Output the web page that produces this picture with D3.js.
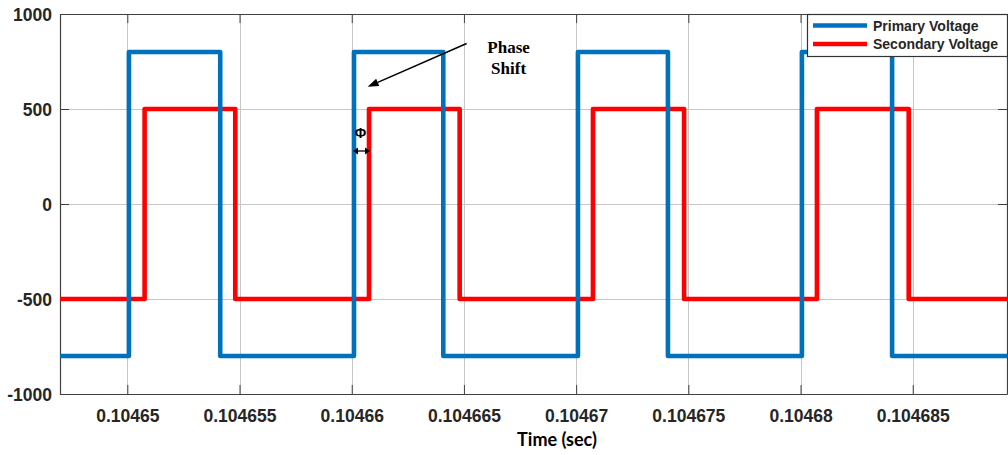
<!DOCTYPE html>
<html><head><meta charset="utf-8">
<script src="https://cdn.jsdelivr.net/npm/d3@7"></script>
<style>body{margin:0;background:#fff} svg{display:block}</style>
</head><body><svg id="chart" width="1008" height="455"></svg>
<script>
// Axis ticks
const xTicks = [0.10465, 0.104655, 0.10466, 0.104665, 0.10467, 0.104675, 0.10468, 0.104685];
const xTickLabels = ["0.10465", "0.104655", "0.10466", "0.104665", "0.10467", "0.104675", "0.10468", "0.104685"];
const yTicks = [-1000, -500, 0, 500, 1000];
const yTickLabels = ["-1000", "-500", "0", "500", "1000"];

// Switching instants (s) and the level held from each instant on (V)
const primaryTime = [0.104647, 0.10465007, 0.10465414, 0.10466010, 0.10466408, 0.10467008, 0.10467409, 0.10468006, 0.10468408, 0.1046892];
const primaryVoltage = [-800, 800, -800, 800, -800, 800, -800, 800, -800, -800];
const secondaryTime = [0.104647, 0.10465077, 0.10465481, 0.10466077, 0.10466481, 0.10467075, 0.10467481, 0.10468073, 0.10468482, 0.1046892];
const secondaryVoltage = [-500, 500, -500, 500, -500, 500, -500, 500, -500, -500];

const seriesNames = ["Primary Voltage", "Secondary Voltage"];
const seriesColors = ["#0072BD", "#FF0000"];

const W = 1008, H = 455;
const m = {left: 60, right: 1, top: 14, bottom: 61};
const svg = d3.select("#chart");
svg.append("rect").attr("width", W).attr("height", H).attr("fill", "#fff");

const x = d3.scaleLinear().domain([0.104647, 0.1046892]).range([m.left, W - m.right]);
const y = d3.scaleLinear().domain([-1000, 1000]).range([H - m.bottom, m.top]);
const x0 = m.left, x1 = W - m.right, y0 = H - m.bottom, y1 = m.top;

svg.append("defs").append("clipPath").attr("id", "plotclip")
  .append("rect").attr("x", x0).attr("y", y1).attr("width", x1 - x0).attr("height", y0 - y1);

// Grid
const grid = svg.append("g").attr("stroke", "#c6c6c6").attr("stroke-width", 1);
grid.selectAll(".gx").data(xTicks).join("line")
  .attr("x1", d => Math.round(x(d)) + 0.5).attr("x2", d => Math.round(x(d)) + 0.5)
  .attr("y1", y1).attr("y2", y0);
grid.selectAll(".gy").data(yTicks).join("line")
  .attr("y1", d => Math.round(y(d)) + 0.5).attr("y2", d => Math.round(y(d)) + 0.5)
  .attr("x1", x0).attr("x2", x1);

// Axes with inward ticks
const axisFont = "'Liberation Sans', Arial, sans-serif";
const xAxis = svg.append("g").attr("transform", `translate(0,${y0})`)
  .call(d3.axisBottom(x).tickValues(xTicks).tickSizeInner(-9).tickSizeOuter(0)
    .tickFormat((d, i) => xTickLabels[i]).tickPadding(16));
const yAxis = svg.append("g").attr("transform", `translate(${x0},0)`)
  .call(d3.axisLeft(y).tickValues(yTicks).tickSizeInner(-9).tickSizeOuter(0)
    .tickFormat((d, i) => yTickLabels[i]).tickPadding(8));
const xTop = svg.append("g").attr("transform", `translate(0,${y1})`)
  .call(d3.axisTop(x).tickValues(xTicks).tickSizeInner(-9).tickSizeOuter(0).tickFormat(""));
const yRight = svg.append("g").attr("transform", `translate(${x1},0)`)
  .call(d3.axisRight(y).tickValues(yTicks).tickSizeInner(-9).tickSizeOuter(0).tickFormat(""));
[xAxis, yAxis, xTop, yRight].forEach(g => {
  g.selectAll(".domain").attr("stroke", "#404040").attr("stroke-width", 1.2);
  g.selectAll(".tick line").attr("stroke", "#404040").attr("stroke-width", 1);
  g.selectAll("text").attr("font-family", axisFont).attr("font-weight", "bold")
    .attr("font-size", "17.5px").attr("fill", "#262626");
});
yAxis.selectAll("text").attr("dy", "0.35em");

// Axis title
svg.append("text").attr("x", 557).attr("y", 446).attr("text-anchor", "middle")
  .attr("font-family", "Lato, 'Open Sans', sans-serif").attr("font-weight", "bold")
  .attr("font-size", "18px").attr("fill", "#000").text("Time (sec)");

// Waveforms
const line = d3.line().x(d => x(d[0])).y(d => y(d[1])).curve(d3.curveStepAfter);
const primary = primaryTime.map((t, i) => [t, primaryVoltage[i]]);
const secondary = secondaryTime.map((t, i) => [t, secondaryVoltage[i]]);
const lines = svg.append("g").attr("clip-path", "url(#plotclip)");
lines.append("path").datum(secondary).attr("d", line).attr("fill", "none")
  .attr("stroke", seriesColors[1]).attr("stroke-width", 4.6).attr("stroke-linejoin", "round");
lines.append("path").datum(primary).attr("d", line).attr("fill", "none")
  .attr("stroke", seriesColors[0]).attr("stroke-width", 4.6).attr("stroke-linejoin", "round");

// Annotation: phase shift
const ann = svg.append("g");
const arrowFrom = [0.10466512, 845], arrowTo = [0.10466071, 617];
const ax1 = x(arrowFrom[0]), ay1 = y(arrowFrom[1]), ax2 = x(arrowTo[0]), ay2 = y(arrowTo[1]);
const ang = Math.atan2(ay2 - ay1, ax2 - ax1);
const hl = 11, hw = 4;
const bx = ax2 - hl * Math.cos(ang), by = ay2 - hl * Math.sin(ang);
ann.append("line").attr("x1", ax1).attr("y1", ay1).attr("x2", bx).attr("y2", by)
  .attr("stroke", "#000").attr("stroke-width", 1.6);
ann.append("path").attr("fill", "#000").attr("d",
  `M${ax2},${ay2}L${bx + hw * Math.sin(ang)},${by - hw * Math.cos(ang)}L${bx - hw * Math.sin(ang)},${by + hw * Math.cos(ang)}Z`);
const serif = "'Liberation Serif', 'Times New Roman', serif";
ann.append("text").attr("x", x(0.10466699)).attr("y", 53).attr("text-anchor", "middle")
  .attr("font-family", serif).attr("font-weight", "bold").attr("font-size", "17px").text("Phase");
ann.append("text").attr("x", x(0.10466699)).attr("y", 74).attr("text-anchor", "middle")
  .attr("font-family", serif).attr("font-weight", "bold").attr("font-size", "17px").text("Shift");

// Φ with double arrow between the two rising edges
const pa = x(primaryTime[3]), pb = x(secondaryTime[3]);
ann.append("text").attr("x", (pa + pb) / 2 - 1).attr("y", 138).attr("text-anchor", "middle")
  .attr("font-family", axisFont).attr("font-weight", "bold").attr("font-size", "14px").text("Φ");
const ya = 151;
ann.append("line").attr("x1", pa + 2).attr("x2", pb - 2).attr("y1", ya).attr("y2", ya)
  .attr("stroke", "#000").attr("stroke-width", 1.3);
ann.append("path").attr("fill", "#000")
  .attr("d", `M${pa - 1},${ya}L${pa + 4},${ya - 3.5}L${pa + 4},${ya + 3.5}Z M${pb + 1},${ya}L${pb - 4},${ya - 3.5}L${pb - 4},${ya + 3.5}Z`);

// Legend
const lg = svg.append("g").attr("transform", "translate(807,14)");
lg.append("rect").attr("x", 0.5).attr("y", 0.5).attr("width", 200).attr("height", 42)
  .attr("fill", "#fff").attr("stroke", "#333").attr("stroke-width", 1.2);
seriesNames.forEach((name, i) => {
  const ly = 11.5 + i * 18.5;
  lg.append("line").attr("x1", 6).attr("x2", 60).attr("y1", ly).attr("y2", ly)
    .attr("stroke", seriesColors[i]).attr("stroke-width", 4.6);
  lg.append("text").attr("x", 66).attr("y", ly).attr("dy", "0.36em")
    .attr("font-family", axisFont).attr("font-weight", "bold").attr("font-size", "14px")
    .attr("fill", "#262626").text(name);
});
</script>
</body></html>
